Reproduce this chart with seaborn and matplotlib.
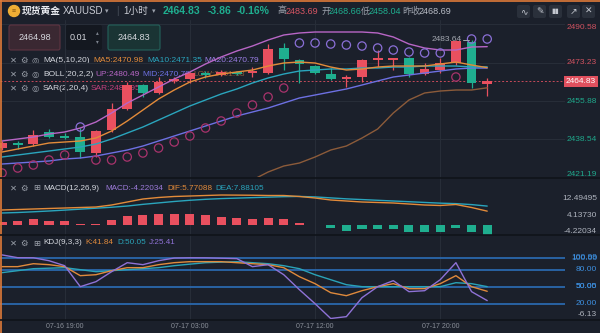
import numpy as np
import pandas as pd
import matplotlib
matplotlib.use("Agg")
import matplotlib.pyplot as plt
import matplotlib.transforms as mtransforms
from matplotlib.patches import FancyBboxPatch, Circle
import seaborn as sns

# ---------------- data ----------------
candle_idx = list(range(32))
opens = [2434.6, 2436.5, 2436.4, 2441.9, 2439.7, 2439.6, 2432.4, 2442.6, 2452.3, 2463.1,
         2459.5, 2465.2, 2465.9, 2468.6, 2467.5, 2468.9, 2468.9, 2468.6, 2479.9, 2474.5,
         2471.7, 2468.1, 2466.1, 2466.8, 2474.8, 2474.8, 2475.4, 2468.1, 2469.9, 2473.3,
         2482.6, 2463.6]
highs = [2437.8, 2437.8, 2442.8, 2443.2, 2441.4, 2443.7, 2442.8, 2455.0, 2464.5, 2463.6,
         2466.8, 2466.8, 2469.0, 2469.5, 2469.8, 2469.5, 2471.3, 2481.7, 2482.1, 2474.9,
         2472.2, 2470.8, 2467.7, 2474.9, 2479.0, 2475.4, 2475.8, 2473.1, 2475.4, 2483.3,
         2483.64, 2466.3]
lows = [2433.7, 2434.2, 2435.5, 2439.2, 2438.7, 2430.1, 2430.6, 2442.0, 2451.9, 2457.7,
        2459.0, 2464.0, 2464.0, 2466.5, 2467.0, 2467.8, 2466.8, 2468.2, 2469.9, 2464.0,
        2468.2, 2465.5, 2462.2, 2464.5, 2471.3, 2469.9, 2466.8, 2467.6, 2468.6, 2472.3,
        2461.8, 2458.04]
closes = [2436.9, 2436.3, 2440.5, 2439.6, 2439.5, 2432.8, 2442.3, 2452.3, 2463.1, 2459.5,
          2464.5, 2465.5, 2468.6, 2467.5, 2468.8, 2468.2, 2469.1, 2479.4, 2474.9, 2472.6,
          2468.6, 2465.9, 2466.4, 2474.45, 2475.0, 2475.0, 2468.1, 2470.4, 2473.1, 2483.0,
          2464.2, 2464.83]
ma5 = [2432.82, 2434.18, 2435.53, 2436.89, 2437.34, 2437.80, 2439.15, 2442.32, 2446.85, 2451.82,
       2456.80, 2460.87, 2464.49, 2466.76, 2468.11, 2469.02, 2469.92, 2471.73, 2473.09, 2473.54,
       2473.09, 2471.28, 2469.92, 2470.38, 2471.28, 2471.73, 2471.73, 2471.73, 2472.64, 2473.54,
       2472.19, 2470.98]
ma10 = [2430.56, 2431.46, 2432.37, 2433.27, 2434.18, 2435.08, 2436.44, 2438.70, 2441.42, 2444.13,
        2447.30, 2450.47, 2453.64, 2456.35, 2459.06, 2461.33, 2464.04, 2466.31, 2468.11, 2469.47,
        2469.92, 2470.38, 2470.38, 2470.83, 2470.83, 2471.28, 2471.28, 2471.73, 2471.73, 2471.73,
        2471.28, 2471.35]
boll_up = [2437.80, 2438.70, 2439.61, 2440.96, 2441.87, 2443.68, 2446.39, 2450.47, 2454.99, 2458.61,
           2462.23, 2465.85, 2469.02, 2472.64, 2475.81, 2478.52, 2480.78, 2483.50, 2485.76, 2486.67,
           2487.12, 2487.12, 2487.12, 2487.12, 2486.67, 2484.86, 2481.69, 2479.88, 2478.97, 2478.97,
           2480.33, 2480.49]
boll_mid = [2427.39, 2427.84, 2428.29, 2428.75, 2429.65, 2430.10, 2431.01, 2432.37, 2433.72, 2435.53,
            2437.80, 2440.06, 2442.32, 2444.58, 2446.85, 2449.11, 2450.92, 2452.73, 2454.99, 2457.26,
            2458.61, 2459.97, 2461.33, 2463.14, 2464.95, 2466.76, 2467.66, 2468.57, 2469.47, 2470.38,
            2470.83, 2470.79]
boll_low_idx = list(range(14, 32))
boll_low = [2414.5, 2417.5, 2420.15, 2423.77, 2426.48, 2427.84, 2430.56, 2433.72, 2435.53, 2439.15,
            2443.23, 2450.47, 2456.35, 2459.52, 2460.42, 2460.87, 2460.87, 2461.88]
sar = [2423.32, 2425.58, 2426.94, 2429.20, 2431.46, 2444.13, 2429.20, 2429.20, 2430.56, 2432.37,
       2434.63, 2437.34, 2440.06, 2443.68, 2446.85, 2450.47, 2454.09, 2457.71, 2461.78, 2482.14,
       2482.14, 2481.69, 2481.24, 2480.78, 2479.88, 2478.97, 2478.07, 2477.62, 2477.62, 2466.76,
       2483.95, 2483.95]
dif = [6.25, 6.46, 6.67, 6.88, 7.08, 7.29, 7.50, 8.33, 9.58, 10.83, 11.46, 11.88, 12.08, 12.29,
       12.49, 12.45, 12.40, 12.29, 12.29, 11.88, 11.25, 10.42, 10.00, 9.58, 9.38, 9.17, 8.75, 8.33,
       8.13, 8.54, 7.29, 5.77088]
dea = [5.0, 5.2, 5.5, 5.83, 6.2, 6.6, 7.0, 7.4, 7.9, 8.6, 9.2, 9.8, 10.3, 10.7, 11.0, 11.2, 11.4,
       11.6, 11.8, 11.9, 11.7, 11.3, 10.9, 10.6, 10.3, 10.0, 9.7, 9.4, 9.1, 8.9, 8.5, 7.88105]
macd_hist = [1.39, 1.8, 2.36, 1.67, 1.67, 0.42, 0.56, 2.08, 3.89, 4.17, 4.72, 4.72, 4.72, 4.17,
             3.47, 3.06, 2.5, 2.78, 2.36, 0.85, -0.2, -1.39, -2.36, -1.8, -1.8, -1.67, -2.78,
             -2.78, -2.78, -1.39, -3.06, -4.22034]
k_vals = [85.3, 85.3, 90.5, 88.8, 85.3, 69.4, 71.1, 78.2, 83.5, 83.5, 88.8, 92.3, 94.1, 94.1,
          94.1, 92.3, 90.5, 88.8, 83.5, 67.6, 55.3, 39.4, 34.1, 42.9, 50.0, 55.3, 46.5, 46.5,
          55.3, 69.4, 50.0, 41.84]
d_vals = [74.7, 78.2, 81.7, 82.6, 83.5, 80.0, 76.4, 78.2, 80.0, 81.7, 83.5, 87.0, 89.7, 92.3,
          93.2, 94.1, 92.3, 90.5, 87.0, 81.7, 71.1, 62.3, 53.5, 50.0, 50.0, 50.0, 50.0, 50.0,
          50.0, 57.0, 55.3, 50.05]
j_vals = [106.0, 101.1, 100.99, 95.8, 87.0, 50.0, 58.8, 76.4, 92.3, 88.8, 95.8, 100.5, 100.99,
          100.9, 100.2, 99.5, 85.3, 88.8, 71.1, 44.7, 20.0, -6.13, -2.9, 30.6, 50.0, 60.6, 41.2,
          42.9, 62.3, 92.3, 41.2, 25.41]
time_tick_idx = [4, 12, 20, 28]
time_tick_labels = ["07-16 19:00", "07-17 03:00", "07-17 12:00", "07-17 20:00"]
price_ticks = [2490.58, 2473.23, 2455.88, 2438.54, 2421.19]
macd_ticks = [12.49495, 4.13730, -4.22034]
macd_tick_labels = ["12.49495", "4.13730", "-4.22034"]
kdj_levels = [100, 80, 50, 20]
kdj_ticks = [100.99, 100.00, 80.00, 50.05, 50.00, 20.00, -6.13]
kdj_tick_labels = ["100.99", "100.00", "80.00", "50.05", "50.00", "20.00", "-6.13"]
high_mark = 2483.64
quote_last, quote_chg, quote_pct = "2464.83", "-3.86", "-0.16%"
day_high, day_open, day_low, prev_close = "2483.69", "2468.66", "2458.04", "2468.69"
bid_price, lot_size, ask_price = "2464.98", "0.01", "2464.83"

# ---------------- style ----------------
BG = '#1b202b'
RED = '#e9505f'
GREEN = '#1fae8f'
GRID = '#272d38'
TXT = '#d4d7de'
GRAY = '#9ba1ab'
C_MA5 = '#e38b3a'
C_MA10 = '#2aa5bd'
C_MA20 = '#9a7ee4'
C_UP = '#b866c6'
C_MID = '#6d70e2'
C_LOW = '#8c5b3a'
C_SAR_BELOW = '#a8336c'
C_SAR_ABOVE = '#8a6fd6'
C_K, C_D, C_J = '#e08a3c', '#2aa3b8', '#8f72d6'
C_LVL = '#2a67ac'
C_LVL_TXT = '#3d8fdf'

sns.set_theme(style="dark", rc={"axes.facecolor": BG, "figure.facecolor": BG})
plt.rcParams['font.family'] = ['Liberation Sans', 'Noto Sans CJK SC', 'DejaVu Sans']
plt.rcParams['axes.unicode_minus'] = False

W, H = 600, 333
fig = plt.figure(figsize=(W / 100, H / 100), dpi=100)
fig.patch.set_facecolor(BG)


def px_axes(x0, y0, x1, y1, z=0, label=None):
    return fig.add_axes([x0 / W, 1 - y1 / H, (x1 - x0) / W, (y1 - y0) / H], zorder=z, label=label)


under = px_axes(0, 0, 600, 333, z=-1, label='under')
ax = px_axes(0, 20, 565, 177, label='main')
axm = px_axes(0, 177, 565, 235, label='macd')
axk = px_axes(0, 234, 565, 320, label='kdj')
ov = px_axes(0, 0, 600, 333, z=5, label='overlay')
for a in (under, ov):
    a.set_xlim(0, W)
    a.set_ylim(H, 0)
    a.axis('off')
    a.patch.set_visible(False)

idx = np.array(candle_idx)
o = np.array(opens); c = np.array(closes)
hi = np.array(highs); lo = np.array(lows)

# ---------------- main panel ----------------
is_up = c >= o
ccol = np.where(is_up, RED, GREEN)
body_h = np.maximum(np.abs(c - o), 0.6)
body_bottom = (o + c) / 2 - body_h / 2
ax.vlines(idx, lo, hi, colors=ccol, lw=0.9, zorder=3)
ax.bar(idx, body_h, bottom=body_bottom, width=0.62, color=ccol, linewidth=0, zorder=4)

sns.lineplot(x=idx, y=boll_up, ax=ax, color=C_UP, lw=1.0, zorder=5)
sns.lineplot(x=idx, y=boll_mid, ax=ax, color=C_MID, lw=1.0, zorder=5)
sns.lineplot(x=np.array(boll_low_idx), y=boll_low, ax=ax, color=C_LOW, lw=1.0, zorder=5)
sns.lineplot(x=idx, y=ma10, ax=ax, color=C_MA10, lw=1.0, zorder=5)
sns.lineplot(x=idx, y=ma5, ax=ax, color=C_MA5, lw=1.0, zorder=5)

sar_a = np.array(sar)
below = sar_a < c
for mask, col in ((below, C_SAR_BELOW), (~below, C_SAR_ABOVE)):
    sns.scatterplot(x=idx[mask], y=sar_a[mask], ax=ax, s=36, color=col, zorder=6, legend=False)
    pc = ax.collections[-1]
    pc.set_facecolor('none')
    pc.set_edgecolor(col)
    pc.set_linewidth(0.9)

ax.axhline(c[-1], color='#c64a5a', ls=(0, (2, 2)), lw=0.7, zorder=2)
ax.text(29.4, high_mark, f"{high_mark:.2f}", ha='right', va='center', color='#a3a7b0',
        fontsize=6, zorder=7)
ax.plot([29.47, 29.82], [high_mark, high_mark], color='#a3a7b0', lw=0.7, zorder=7)

# ---------------- MACD panel ----------------
mh = np.array(macd_hist)
axm.bar(idx, mh, width=0.58, color=np.where(mh >= 0, RED, GREEN), linewidth=0, zorder=3)
sns.lineplot(x=idx, y=dea, ax=axm, color=C_MA10, lw=1.0, zorder=4)
sns.lineplot(x=idx, y=dif, ax=axm, color=C_MA5, lw=1.0, zorder=4)

# ---------------- KDJ panel ----------------
for lv in kdj_levels:
    axk.axhline(lv, color=C_LVL, lw=1.3, zorder=1)
sns.lineplot(x=idx, y=d_vals, ax=axk, color=C_D, lw=1.0, zorder=4)
sns.lineplot(x=idx, y=k_vals, ax=axk, color=C_K, lw=1.0, zorder=4)
sns.lineplot(x=idx, y=j_vals, ax=axk, color=C_J, lw=1.0, zorder=4)

# ---------------- axes cosmetics ----------------
for a in (ax, axm, axk):
    a.set_facecolor('none')
    a.set_xlim(-0.13, 35.97)
    for s in a.spines.values():
        s.set_visible(False)
    a.grid(False)
    a.set_xlabel('')
    a.set_ylabel('')
    a.tick_params(left=False, bottom=False, labelleft=False, labelbottom=False)
    for t in time_tick_idx:
        a.axvline(t, color=GRID, lw=0.8, zorder=0)
ax.set_ylim(2421.51, 2492.55)
axm.set_ylim(-4.17, 20.0)
axk.set_ylim(-8.8, 142.9)
for p in price_ticks[:-1]:
    ax.axhline(p, color=GRID, lw=0.8, zorder=0)

axk.set_xticks(time_tick_idx)
axk.set_xticklabels(time_tick_labels)
axk.tick_params(labelbottom=True, length=0, pad=2.2, labelsize=5, labelcolor='#8a8f99')

# right-side value labels
XR = 597 / 565
tr = mtransforms.blended_transform_factory(ax.transAxes, ax.transData)
for i, p in enumerate(price_ticks):
    va = 'top' if i == 0 else ('bottom' if i == len(price_ticks) - 1 else 'center')
    col = '#cf5260' if p > c[-1] else '#1fa88b'
    ax.text(XR, p, f"{p:.2f}", transform=tr, ha='right', va=va, fontsize=6, color=col, clip_on=False)
ax.text(XR - 0.002, c[-1], f"{c[-1]:.2f}", transform=tr, ha='right', va='center', fontsize=6,
        color='white', clip_on=False, zorder=8,
        bbox=dict(boxstyle='square,pad=0.25', fc='#e0505e', ec='none'))

trm = mtransforms.blended_transform_factory(axm.transAxes, axm.transData)
for i, (v, s) in enumerate(zip(macd_ticks, macd_tick_labels)):
    va = 'top' if i == 0 else ('bottom' if i == len(macd_ticks) - 1 else 'center')
    axm.text(XR, v, s, transform=trm, ha='right', va=va, fontsize=6, color='#aeb3bd', clip_on=False)

trk = mtransforms.blended_transform_factory(axk.transAxes, axk.transData)
for v, s in zip(kdj_ticks, kdj_tick_labels):
    va = 'bottom' if v < 0 else 'center'
    col = '#aeb3bd' if v < 0 else C_LVL_TXT
    axk.text(XR, v, s, transform=trk, ha='right', va=va, fontsize=6, color=col, clip_on=False)


# ---------------- header & overlays ----------------
def put(a, x, y, s, color, size=6, weight='normal', ha='left', **kw):
    a.text(x, y, s, color=color, fontsize=size, fontweight=weight, ha=ha, va='center', **kw)


# frame and separators
ov.plot([0, 600], [0.6, 0.6], color='#e07b39', lw=1.2)
ov.plot([0.6, 0.6], [0, 333], color='#e07b39', lw=1.2)
for yy in (177.5, 234.5, 320.3):
    ov.plot([0, 600], [yy, yy], color='#10131a', lw=1.2)

# title row
ov.add_patch(Circle((14, 11), 5.5, color='#efae35'))
put(ov, 14, 11.3, '≡', '#8a5a12', size=5, ha='center')
put(ov, 22, 11, '现货黄金', '#e8eaef', size=7, weight='bold')
put(ov, 63, 11, 'XAUUSD', '#c9ccd4', size=7)
put(ov, 105, 11.5, '▾', GRAY, size=5)
put(ov, 116, 11, '|', '#4a505c', size=7)
put(ov, 123, 11, '1小时', '#c9ccd4', size=7)
put(ov, 152, 11.5, '▾', GRAY, size=5)
put(ov, 163, 11, quote_last, GREEN, size=7.5, weight='bold')
put(ov, 208, 11, quote_chg, GREEN, size=7.5, weight='bold')
put(ov, 237, 11, quote_pct, GREEN, size=7.5, weight='bold')
put(ov, 277, 11, '高', GRAY, size=6.5)
put(ov, 286, 11, day_high, '#d65563', size=6.5)
put(ov, 321, 11, '开', GRAY, size=6.5)
put(ov, 329, 11, day_open, GREEN, size=6.5)
put(ov, 361, 11, '低', GRAY, size=6.5)
put(ov, 369, 11, day_low, GREEN, size=6.5)
put(ov, 402, 11, '昨收', GRAY, size=6.5)
put(ov, 419, 11, prev_close, '#b9bdc6', size=6.5)

for bx, sym in zip((517, 533, 549, 567, 582), ('∿', '✎', '▮▮', '↗', '✕')):
    ov.add_patch(FancyBboxPatch((bx, 5), 13, 13, boxstyle='round,pad=0,rounding_size=2',
                                fc='#2a303b', ec='none'))
    put(ov, bx + 6.5, 11.5, sym, '#c3c7cf', size=5 if sym == '▮▮' else 6.5, ha='center',
        family=['DejaVu Sans'])

# trade boxes
ov.add_patch(FancyBboxPatch((9, 25), 51, 25, boxstyle='round,pad=0,rounding_size=2',
                            fc='#3a2832', ec='#5e3442', lw=0.8))
put(ov, 34.5, 37.5, bid_price, '#d5d7dd', size=6.5, ha='center')
ov.add_patch(FancyBboxPatch((66, 25), 36, 25, boxstyle='round,pad=0,rounding_size=2',
                            fc='#141820', ec='none'))
put(ov, 70, 37.5, lot_size, '#d5d7dd', size=6.5)
put(ov, 97, 33, '▴', '#7d838e', size=4, ha='center', family=['DejaVu Sans'])
put(ov, 97, 42, '▾', '#7d838e', size=4, ha='center', family=['DejaVu Sans'])
ov.add_patch(FancyBboxPatch((108, 25), 52, 25, boxstyle='round,pad=0,rounding_size=2',
                            fc='#1a3434', ec='#23615a', lw=0.8))
put(ov, 134, 37.5, ask_price, '#d5d7dd', size=6.5, ha='center')

# indicator legends of the main panel (drawn beneath the chart marks)
icon_kw = dict(family=['DejaVu Sans'])
for yy in (60.5, 74.3, 88.2):
    put(under, 10, yy, '✕', GRAY, size=6, **icon_kw)
    put(under, 20, yy, '⚙', GRAY, size=6, **icon_kw)
    put(under, 31.5, yy, '◎', GRAY, size=6, **icon_kw)
put(under, 43, 60.5, 'MA(5,10,20)', TXT)
put(under, 93, 60.5, f'MA5:{ma5[-1]:.2f}', C_MA5)
put(under, 147, 60.5, f'MA10:{ma10[-1]:.2f}', C_MA10)
put(under, 204, 60.5, f'MA20:{boll_mid[-1]:.2f}', C_MA20)
put(under, 43, 74.3, 'BOLL(20,2,2)', TXT)
put(under, 95, 74.3, f'UP:{boll_up[-1]:.2f}', C_UP)
put(under, 142, 74.3, f'MID:{boll_mid[-1]:.2f}', C_MID)
put(under, 193, 74.3, f'LOW:{boll_low[-1]:.2f}', C_LOW)
put(under, 43, 88.2, 'SAR(2,20,4)', TXT)
put(under, 91, 88.2, f'SAR:{sar[-1]:.2f}', '#c2407c')

# MACD / KDJ legends
for yy in (188, 243):
    put(ov, 10, yy, '✕', GRAY, size=6, **icon_kw)
    put(ov, 20.5, yy, '⚙', GRAY, size=6, **icon_kw)
    put(ov, 33.5, yy, '⊞', GRAY, size=6, **icon_kw)
put(ov, 43, 188, 'MACD(12,26,9)', TXT, size=5.9)
put(ov, 105, 188, f'MACD:{macd_hist[-1]:.5f}', '#9c7ad9', size=5.9)
put(ov, 167, 188, f'DIF:{dif[-1]:.5f}', C_MA5, size=5.9)
put(ov, 215, 188, f'DEA:{dea[-1]:.5f}', C_MA10, size=5.9)
put(ov, 43, 243, 'KDJ(9,3,3)', TXT, size=5.9)
put(ov, 85, 243, f'K:{k_vals[-1]:.2f}', C_K, size=5.9)
put(ov, 117, 243, f'D:{d_vals[-1]:.2f}', C_D, size=5.9)
put(ov, 149, 243, f'J:{j_vals[-1]:.2f}', C_J, size=5.9)

fig.savefig('out.png', dpi=100, facecolor=BG)
